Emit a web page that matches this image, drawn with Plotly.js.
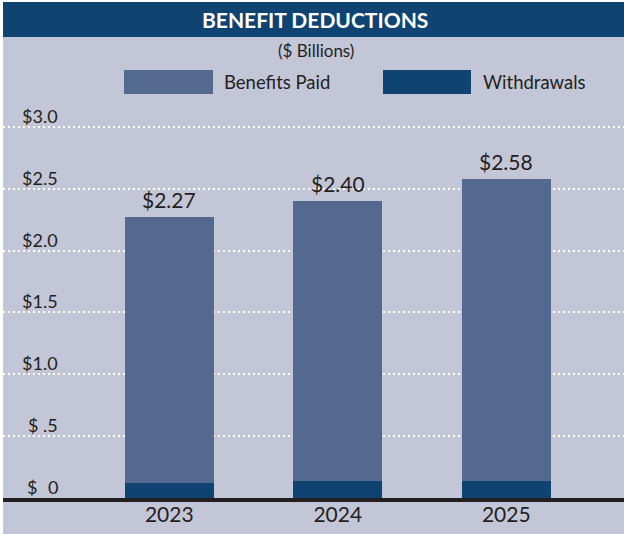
<!DOCTYPE html>
<html>
<head>
<meta charset="utf-8">
<script src="https://cdn.plot.ly/plotly-3.0.1.min.js"></script>
<style>html,body{margin:0;padding:0;background:#fff;}#chart{width:624px;height:534px;}</style>
</head>
<body>
<div id="chart"></div>
<script>
const years = ["2023", "2024", "2025"];
const benefitsPaid = [2.15, 2.26, 2.44];
const withdrawals = [0.12, 0.14, 0.14];
const yTickVals = [0, 0.5, 1.0, 1.5, 2.0, 2.5, 3.0];
const yTickText = ["$\u20070", "$ .5", "$1.0", "$1.5", "$2.0", "$2.5", "$3.0"];
const chartTitle = "BENEFIT DEDUCTIONS";
const subTitle = "($ Billions)";
const seriesNames = ["Benefits Paid", "Withdrawals"];

const W = 624, H = 534, ML = 3, MR = 0, MT = 100, MB = 36;
const PW = W - ML - MR, PH = H - MT - MB;
const px = x => (x - ML) / PW;
const py = y => (H - MB - y) / PH;

const cBenefits = "#54698f";
const cWithdraw = "#0f4372";
const cBg = "#c3c6d7";
const cText = "#231f20";
const font = "Lato, 'Open Sans', sans-serif";

const totals = benefitsPaid.map((v, i) => v + withdrawals[i]);

const traces = [
  {type: "bar", x: years, y: withdrawals, name: seriesNames[1], marker: {color: cWithdraw}, width: 0.528, hoverinfo: "skip"},
  {type: "bar", x: years, y: benefitsPaid, name: seriesNames[0], marker: {color: cBenefits}, width: 0.528, hoverinfo: "skip"}
];

const annotations = [];
yTickVals.forEach((v, i) => {
  annotations.push({xref: "paper", yref: "y", x: px(60), y: v, xanchor: "right", yanchor: "bottom", yshift: -2,
    text: yTickText[i], showarrow: false, font: {family: font, size: 18, color: cText}});
});
totals.forEach((t, i) => {
  annotations.push({xref: "x", yref: "y", x: i, y: t, xanchor: "center", yanchor: "bottom", yshift: 3,
    text: "$" + t.toFixed(2), showarrow: false, font: {family: font, size: 21, color: cText}});
});
annotations.push({xref: "paper", yref: "paper", x: px(315), y: py(19.5), xanchor: "center", yanchor: "middle",
  text: "<b>" + chartTitle + "</b>", showarrow: false, font: {family: font, size: 21, color: "#ffffff"}});
annotations.push({xref: "paper", yref: "paper", x: px(316), y: py(50), xanchor: "center", yanchor: "middle",
  text: subTitle, showarrow: false, font: {family: font, size: 17, color: cText}});
annotations.push({xref: "paper", yref: "paper", x: px(222), y: py(82), xanchor: "left", yanchor: "middle",
  text: seriesNames[0], showarrow: false, font: {family: font, size: 18.5, color: cText}});
annotations.push({xref: "paper", yref: "paper", x: px(481), y: py(82), xanchor: "left", yanchor: "middle",
  text: seriesNames[1], showarrow: false, font: {family: font, size: 18.5, color: cText}});

const shapes = [
  {type: "rect", xref: "paper", yref: "paper", x0: px(3), x1: px(624), y0: py(37), y1: py(534), fillcolor: cBg, line: {width: 0}, layer: "below"},
  {type: "rect", xref: "paper", yref: "paper", x0: px(3), x1: px(624), y0: py(37), y1: py(2), fillcolor: cWithdraw, line: {width: 0}, layer: "below"},
  {type: "rect", xref: "paper", yref: "paper", x0: px(124), x1: px(213), y0: py(94), y1: py(70), fillcolor: cBenefits, line: {width: 0}},
  {type: "rect", xref: "paper", yref: "paper", x0: px(383), x1: px(471), y0: py(94), y1: py(70), fillcolor: cWithdraw, line: {width: 0}}
];

const layout = {
  width: W, height: H,
  margin: {l: ML, r: MR, t: MT, b: MB, pad: 0},
  paper_bgcolor: "#ffffff",
  plot_bgcolor: cBg,
  barmode: "stack",
  showlegend: false,
  xaxis: {type: "category", range: [-0.987, 2.699], showgrid: false, zeroline: false,
    showline: true, linewidth: 4, linecolor: cText, ticks: "", ticklabelstandoff: -5,
    tickfont: {family: font, size: 21, color: cText}, fixedrange: true},
  yaxis: {range: [0, PH / 123.7], tickvals: yTickVals, showticklabels: false, showgrid: true,
    gridcolor: "#ffffff", gridwidth: 2, griddash: "2px,3px", zeroline: false, showline: false, ticks: "", fixedrange: true},
  annotations: annotations,
  shapes: shapes
};

Plotly.newPlot("chart", traces, layout, {displayModeBar: false, staticPlot: true});
</script>
</body>
</html>
